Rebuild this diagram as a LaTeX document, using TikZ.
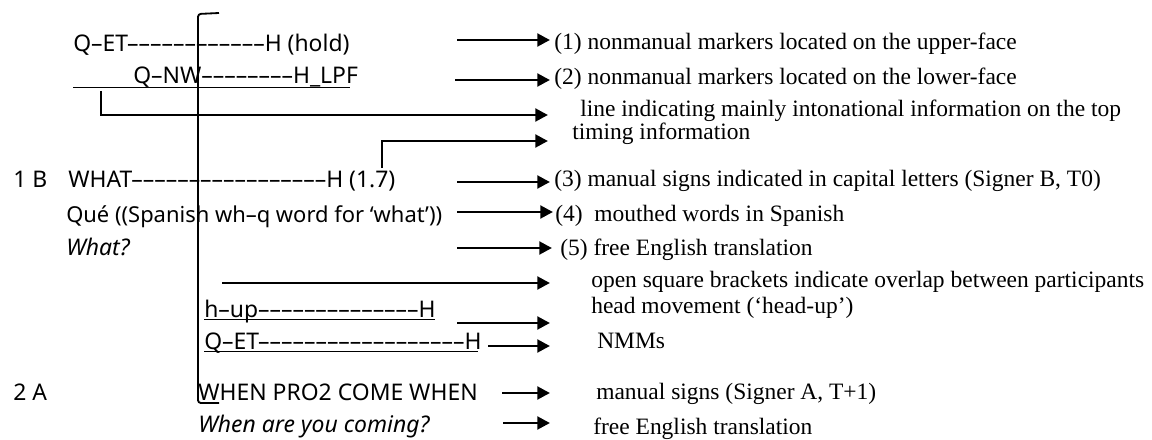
\documentclass[tikz,border=0pt]{standalone}
\usepackage{fontspec}
\setmainfont{Liberation Serif}
\newfontfamily\glossfont{Noto Sans}
\usetikzlibrary{arrows.meta}
\begin{document}
\begin{tikzpicture}
[x=0.025cm,y=-0.025cm,%
 glossstyle/.style={font=\glossfont\fontsize{16.3}{19}\selectfont,anchor=base west,inner sep=0pt},%
 glossitstyle/.style={glossstyle,font=\glossfont\fontsize{16.3}{19}\selectfont\itshape},%
 notestyle/.style={font=\fontsize{16.7}{20}\selectfont,anchor=base west,inner sep=0pt},%
 pointerstyle/.style={line width=2.1pt,-{Triangle[length=9pt,width=9pt]}},%
 bracketstyle/.style={line width=1.3pt},%
 underlinestyle/.style={line width=0.7pt}]
\useasboundingbox (0,0) rectangle (1152,440);
%% transcription, turn 1
\node[glossstyle] (qet) at (73,52) {Q–ET––––––––––––H (hold)};
\node[glossstyle] (qnw) at (133,83) {Q–NW––––––––H\_LPF};
\node[glossstyle] (turnb) at (13,187) {1 B};
\node[glossstyle] (what) at (68,187) {WHAT–––––––––––––––––H (1.7)};
\node[glossstyle,font=\glossfont\fontsize{15.6}{19}\selectfont] (que) at (66,222) {Qué ((Spanish wh–q word for ‘what’))};
\node[glossitstyle] (whatq) at (66,255) {What?};
%% transcription, turn 2
\node[glossstyle] (hup) at (204,317) {h–up––––––––––––––H};
\node[glossstyle] (qetb) at (204,349) {Q–ET––––––––––––––––––H};
\node[glossstyle] (turna) at (13,400) {2 A};
\node[glossstyle] (when) at (198,400) {WHEN PRO2 COME WHEN};
\node[glossitstyle] (whenq) at (198,432) {When are you coming?};
%% lines under the glosses
\draw[underlinestyle] (73,87) -- (350,87);
\draw[underlinestyle] (hup.base west) ++(0,2) -- (435,319);
\draw[underlinestyle] (qetb.base west) ++(0,2) -- (478,351);
%% overlap bracket
\draw[bracketstyle,rounded corners=2pt] (219,13) -- (198,14) -- (198,403) -- (219,403);
%% explanations on the right
\node[notestyle] (n1) at (554,50) {(1) nonmanual markers located on the upper-face};
\node[notestyle] (n2) at (554,85) {(2) nonmanual markers located on the lower-face};
\node[notestyle] (nline) at (580,117) {line indicating mainly intonational information on the top};
\node[notestyle] (ntime) at (572,139) {timing information};
\node[notestyle] (n3) at (554,186) {(3) manual signs indicated in capital letters (Signer B, T0)};
\node[notestyle] (n4) at (555,221) {(4)\ \ mouthed words in Spanish};
\node[notestyle] (n5) at (560,255) {(5) free English translation};
\node[notestyle] (nopen) at (591,287) {open square brackets indicate overlap between participants};
\node[notestyle] (nhead) at (591,313) {head movement (‘head-up’)};
\node[notestyle] (nnmm) at (597,348) {NMMs};
\node[notestyle] (nmanual) at (596,399) {manual signs (Signer A, T+1)};
\node[notestyle] (nfree) at (593,434) {free English translation};
%% arrow ends
\coordinate (s1) at (457,40);   \coordinate (e1) at (550,40);
\coordinate (s2) at (455,80);   \coordinate (e2) at (550,80);
\coordinate (sline) at (101,91);  \coordinate (eline) at (548,115);
\coordinate (stime) at (382,168); \coordinate (etime) at (548,141);
\coordinate (s3) at (457,182);  \coordinate (e3) at (550,182);
\coordinate (s4) at (457,212);  \coordinate (e4) at (553,212);
\coordinate (s5) at (457,248);  \coordinate (e5) at (552,248);
\coordinate (sopen) at (222,283); \coordinate (eopen) at (550,283);
\coordinate (shead) at (457,323); \coordinate (ehead) at (550,323);
\coordinate (snmm) at (488,346); \coordinate (enmm) at (550,346);
\coordinate (smanual) at (502,393); \coordinate (emanual) at (550,393);
\coordinate (sfree) at (503,423); \coordinate (efree) at (550,423);
%% arrows
\draw[pointerstyle] (s1) -- (e1);
\draw[pointerstyle] (s2) -- (e2);
\draw[pointerstyle] (sline) |- (eline);
\draw[pointerstyle] (stime) |- (etime);
\draw[pointerstyle] (s3) -- (e3);
\draw[pointerstyle] (s4) -- (e4);
\draw[pointerstyle] (s5) -- (e5);
\draw[pointerstyle] (sopen) -- (eopen);
\draw[pointerstyle] (shead) -- (ehead);
\draw[pointerstyle] (snmm) -- (enmm);
\draw[pointerstyle] (smanual) -- (emanual);
\draw[pointerstyle] (sfree) -- (efree);
\end{tikzpicture}
\end{document}
